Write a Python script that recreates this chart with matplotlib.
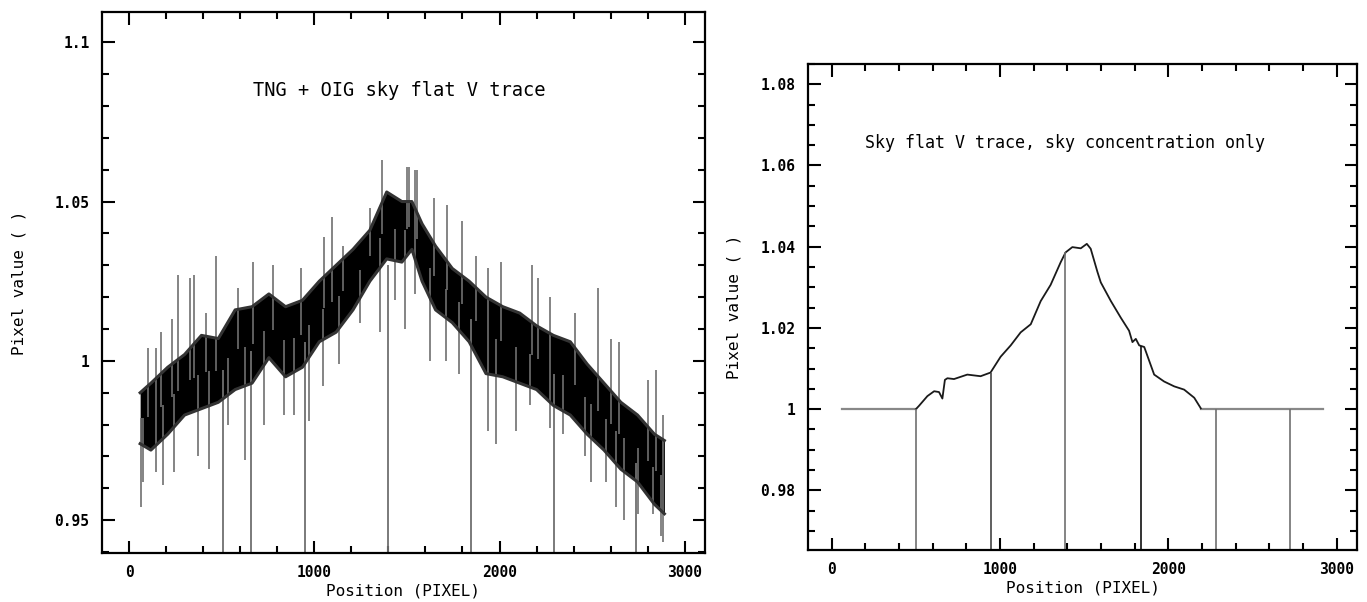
import numpy as np
import matplotlib
matplotlib.use('Agg')
import matplotlib.pyplot as plt
from matplotlib.ticker import MultipleLocator, FuncFormatter

# ---- left panel: TNG + OIG sky flat (noisy trace) ----
band_x = [60, 118, 209, 300, 391, 482, 573, 664, 755, 845, 936, 1027, 1118,
          1209, 1300, 1391, 1473, 1527, 1582, 1655, 1745, 1836, 1927, 2018,
          2109, 2200, 2291, 2382, 2473, 2564, 2655, 2745, 2836, 2890]
band_hi = [0.990, 0.993, 0.998, 1.002, 1.008, 1.007, 1.016, 1.017, 1.021,
           1.017, 1.019, 1.025, 1.030, 1.035, 1.041, 1.053, 1.050, 1.050,
           1.043, 1.036, 1.029, 1.025, 1.020, 1.017, 1.015, 1.011, 1.008,
           1.006, 0.999, 0.993, 0.987, 0.983, 0.977, 0.975]
band_lo = [0.974, 0.972, 0.977, 0.983, 0.985, 0.987, 0.991, 0.993, 1.001,
           0.995, 0.998, 1.006, 1.009, 1.016, 1.025, 1.032, 1.031, 1.035,
           1.025, 1.016, 1.012, 1.006, 0.996, 0.995, 0.993, 0.991, 0.986,
           0.983, 0.977, 0.972, 0.966, 0.962, 0.955, 0.952]

spike_up_x = [100, 145, 173, 231, 267, 331, 351, 418, 469, 587, 669, 778,
              927, 1054, 1093, 1154, 1300, 1365, 1500, 1514, 1545, 1554,
              1649, 1718, 1796, 1873, 1936, 2009, 2173, 2209, 2273, 2409,
              2533, 2600, 2645, 2800, 2845, 2880]
spike_up_y = [1.004, 1.004, 1.009, 1.013, 1.027, 1.026, 1.027, 1.015, 1.033,
              1.023, 1.031, 1.030, 1.029, 1.039, 1.045, 1.036, 1.048, 1.063,
              1.061, 1.061, 1.060, 1.060, 1.051, 1.049, 1.044, 1.033, 1.029,
              1.031, 1.030, 1.026, 1.020, 1.015, 1.023, 1.007, 1.006, 0.994,
              0.997, 0.983]
spike_dn_x = [64, 78, 145, 182, 245, 373, 433, 536, 627, 731, 836, 891, 973,
              1045, 1133, 1245, 1354, 1436, 1491, 1545, 1627, 1709, 1782, 1936,
              1982, 2091, 2164, 2273, 2345, 2464, 2496, 2573, 2631, 2673, 2745,
              2827, 2873, 2885]
spike_dn_y = [0.954, 0.962, 0.965, 0.961, 0.965, 0.970, 0.966, 0.980, 0.969,
              0.980, 0.983, 0.983, 0.981, 0.992, 0.999, 1.012, 1.009, 1.019,
              1.010, 1.021, 1.000, 1.000, 0.996, 0.978, 0.974, 0.978, 0.986,
              0.979, 0.977, 0.970, 0.962, 0.962, 0.954, 0.950, 0.952, 0.952,
              0.945, 0.943]

dead_left_x = [507, 659, 952, 1398, 1848, 2293, 2739]
dead_left_top = [0.997, 1.003, 1.006, 1.030, 1.013, 0.996, 0.968]

# ---- right panel: sky concentration only ----
flat_x = [60, 500, 2192, 2920]
curve_x = [500, 518, 568, 608, 637, 657, 672, 687, 726, 805, 884, 943, 1003,
           1063, 1122, 1182, 1241, 1300, 1360, 1389, 1429, 1479, 1515, 1538,
           1578, 1598, 1658, 1717, 1766, 1786, 1806, 1826, 1856, 1915, 1974,
           2034, 2093, 2153, 2192]
curve_y = [1.0000, 1.0008, 1.0032, 1.0044, 1.0042, 1.0026, 1.0072, 1.0076,
           1.0074, 1.0085, 1.0081, 1.0090, 1.0129, 1.0157, 1.0189, 1.0209,
           1.0266, 1.0306, 1.0362, 1.0386, 1.0399, 1.0396, 1.0407, 1.0395,
           1.0338, 1.0312, 1.0266, 1.0225, 1.0193, 1.0165, 1.0173, 1.0157,
           1.0153, 1.0085, 1.0068, 1.0056, 1.0048, 1.0028, 1.0002]
dead_right_x = [503, 948, 1388, 1837, 2280, 2722]
dead_right_top = [1.0, 1.009, 1.0386, 1.0155, 1.0, 1.0]

left_title = 'TNG + OIG sky flat V trace'
right_title = 'Sky flat V trace, sky concentration only'

MONO = 'DejaVu Sans Mono'
GREY = '#6f6f6f'


def fmt(v, pos):
    return '%g' % round(v, 3)


def style_axes(ax, xlim, ylim, ymajor, yminor):
    ax.set_xlim(*xlim)
    ax.set_ylim(*ylim)
    ax.xaxis.set_major_locator(MultipleLocator(1000))
    ax.xaxis.set_minor_locator(MultipleLocator(200))
    ax.yaxis.set_major_locator(MultipleLocator(ymajor))
    ax.yaxis.set_minor_locator(MultipleLocator(yminor))
    ax.xaxis.set_major_formatter(FuncFormatter(fmt))
    ax.yaxis.set_major_formatter(FuncFormatter(fmt))
    ax.tick_params(which='both', direction='in', top=True, right=True,
                   width=1.5, labelsize=10.5, pad=9)
    ax.tick_params(which='major', length=9)
    ax.tick_params(which='minor', length=5)
    for lab in ax.get_xticklabels() + ax.get_yticklabels():
        lab.set_family(MONO)
        lab.set_weight('bold')
    for sp in ax.spines.values():
        sp.set_linewidth(1.6)
    ax.set_xlabel('Position (PIXEL)', family=MONO, fontsize=11.5, labelpad=2)
    ax.set_ylabel('Pixel value ( )', family=MONO, fontsize=11.5)


fig = plt.figure(figsize=(13.67, 6.02), dpi=100)

# left
ax1 = fig.add_axes([0.0746, 0.0814, 0.4411, 0.8987])
bx = np.array(band_x)
mid = (np.array(band_hi) + np.array(band_lo)) / 2
ax1.vlines(spike_up_x, np.interp(spike_up_x, bx, mid), spike_up_y,
           color=GREY, lw=1.2)
ax1.vlines(spike_dn_x, spike_dn_y, np.interp(spike_dn_x, bx, mid),
           color=GREY, lw=1.2)
ax1.vlines(dead_left_x, 0.90, dead_left_top, color=GREY, lw=1.3)
ax1.fill_between(band_x, band_lo, band_hi, color='black', lw=0)
ax1.plot(band_x, band_hi, color='#333333', lw=2.2)
ax1.plot(band_x, band_lo, color='#333333', lw=2.2)
style_axes(ax1, (-146, 3109), (0.9397, 1.1095), 0.05, 0.01)
ax1.yaxis.labelpad = 20
ax1.text(1458, 1.0848, left_title, family=MONO, fontsize=13.5,
         ha='center', va='center')

# right
ax2 = fig.add_axes([0.5911, 0.0864, 0.4016, 0.8073])
ax2.plot(flat_x[:2], [1, 1], color='#888888', lw=1.6)
ax2.plot(flat_x[2:], [1, 1], color='#888888', lw=1.6)
ax2.plot(curve_x, curve_y, color='#1a1a1a', lw=1.3)
vcol = [GREY, '#444444', GREY, '#111111', GREY, GREY]
ax2.vlines(dead_right_x, 0.90, dead_right_top, colors=vcol, lw=1.2)
style_axes(ax2, (-141, 3120), (0.9653, 1.0850), 0.02, 0.005)
ax2.yaxis.labelpad = 14
ax2.text(1386, 1.0655, right_title, family=MONO, fontsize=12,
         ha='center', va='center')

fig.savefig('out.png', dpi=100)
